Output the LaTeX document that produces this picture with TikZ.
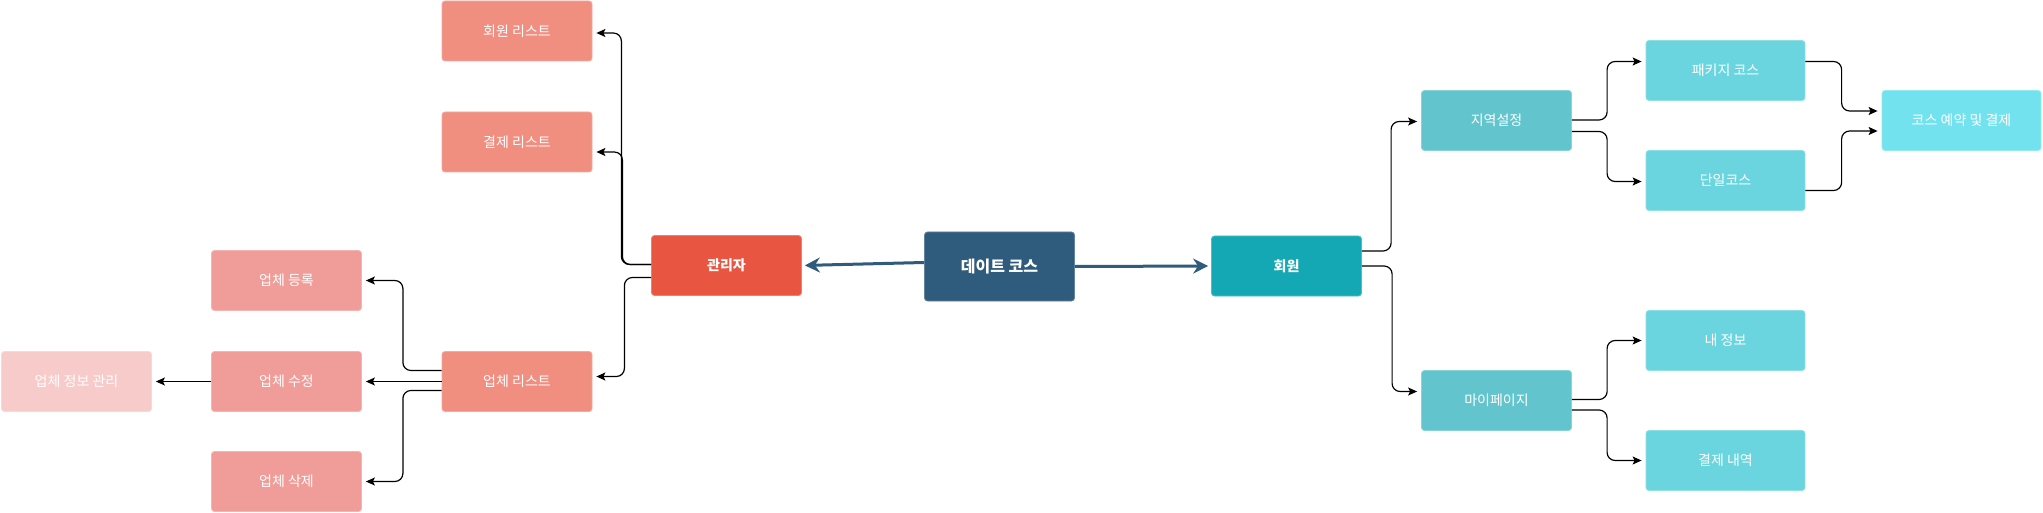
\documentclass[tikz,border=0pt]{standalone}
\usepackage{fontspec}
\newfontfamily\kr{Noto Sans CJK KR}
\usetikzlibrary{arrows.meta,calc}
\definecolor{cSal}{HTML}{F08E80}
\definecolor{cPink}{HTML}{F09C98}
\definecolor{cPale}{HTML}{F7CBCA}
\definecolor{cAdmin}{HTML}{E85642}
\definecolor{cDate}{HTML}{2F5B7C}
\definecolor{cMem}{HTML}{13A8B4}
\definecolor{cTeal}{HTML}{62C5CD}
\definecolor{cCyan}{HTML}{6AD5DE}
\definecolor{cLight}{HTML}{72E3EE}
\tikzset{
  box/.style={rectangle, rounded corners=3pt, minimum width=150pt, minimum height=60pt,
    inner sep=0pt, text=white, line width=0.8pt, font=\kr\fontsize{14}{16}\selectfont},
  widebox/.style={box, minimum width=159pt},
  boldbox/.style={box, font=\kr\bfseries\fontsize{14}{16}\selectfont},
  conn/.style={draw=black, line width=1.2pt, rounded corners=8pt,
    -{Stealth[length=9pt,width=8pt,inset=2pt]}, shorten >=4pt},
  mainarrow/.style={draw=cDate, line width=3pt,
    -{Stealth[length=15pt,width=15pt,inset=5pt]}, shorten >=3pt}
}
\begin{document}
\begin{tikzpicture}[x=1pt,y=-1pt]
\useasboundingbox[fill=white] (0,0) rectangle (2043,513);
% left side
\node[box, fill=cSal, draw=cSal!75!white] (hl) at (517,31) {회원 리스트};
\node[box, fill=cSal, draw=cSal!75!white] (pl) at (517,142) {결제 리스트};
\node[box, fill=cSal, draw=cSal!75!white] (vl) at (517,381.5) {업체 리스트};
\node[box, fill=cPink, draw=cPink!75!white] (vreg) at (286.5,280.5) {업체 등록};
\node[box, fill=cPink, draw=cPink!75!white] (vmod) at (286.5,381.5) {업체 수정};
\node[box, fill=cPink, draw=cPink!75!white] (vdel) at (286.5,481.5) {업체 삭제};
\node[box, fill=cPale, draw=cPale!75!white] (vinfo) at (76.5,381.5) {업체 정보 관리};
\node[boldbox, fill=cAdmin, draw=cAdmin!75!white] (admin) at (726.5,265.5) {관리자};
% center
\node[boldbox, fill=cDate, draw=cDate!75!white, minimum height=69pt,
  font=\kr\bfseries\fontsize{16}{18}\selectfont] (date) at (999.5,266.5) {데이트 코스};
\node[boldbox, fill=cMem, draw=cMem!75!white] (member) at (1286.5,266) {회원};
% right side
\node[box, fill=cTeal, draw=cTeal!75!white] (region) at (1496.5,120.5) {지역설정};
\node[box, fill=cTeal, draw=cTeal!75!white] (mypage) at (1496.5,400.5) {마이페이지};
\node[widebox, fill=cCyan, draw=cCyan!75!white] (pkg) at (1725.5,70.5) {패키지 코스};
\node[widebox, fill=cCyan, draw=cCyan!75!white] (single) at (1725.5,180.5) {단일코스};
\node[widebox, fill=cCyan, draw=cCyan!75!white] (myinfo) at (1725.5,340.5) {내 정보};
\node[widebox, fill=cCyan, draw=cCyan!75!white] (payhist) at (1725.5,460.5) {결제 내역};
\node[widebox, fill=cLight, draw=cLight!75!white] (book) at (1961.5,120.5) {코스 예약 및 결제};
% main arrows
\draw[mainarrow] ($(date.west)+(0,-4)$) -- (admin.east);
\draw[mainarrow] (date.east) -- (member.west);
% admin branch
\draw[conn] ($(admin.west)+(0,-1)$) -| ($(hl.east)+(29,2)$) -- ($(hl.east)+(0,2)$);
\draw[conn] ($(admin.west)+(0,-1)$) -| ($(pl.east)+(30,10)$) -- ($(pl.east)+(0,10)$);
\draw[conn] ($(admin.west)+(0,12)$) -| ($(vl.east)+(32,-5)$) -- ($(vl.east)+(0,-5)$);
\draw[conn] ($(vl.west)+(0,-11)$) -| ($(vreg.east)+(41,0)$) -- (vreg.east);
\draw[conn] (vl.west) -- (vmod.east);
\draw[conn] ($(vl.west)+(0,9)$) -| ($(vdel.east)+(41,0)$) -- (vdel.east);
\draw[conn] (vmod.west) -- (vinfo.east);
% member branch
\draw[conn] ($(member.east)+(0,-15)$) -| ($(region.west)+(-30,1)$) -- ($(region.west)+(0,1)$);
\draw[conn] (member.east) -| ($(mypage.west)+(-29,-9)$) -- ($(mypage.west)+(0,-9)$);
\draw[conn] ($(region.east)+(0,-0.5)$) -| ($(pkg.west)+(-38.5,-9)$) -- ($(pkg.west)+(0,-9)$);
\draw[conn] ($(region.east)+(0,11)$) -| ($(single.west)+(-38.5,1)$) -- ($(single.west)+(0,1)$);
\draw[conn] ($(pkg.east)+(0,-9)$) -| ($(book.west)+(-40,-9.5)$) -- ($(book.west)+(0,-9.5)$);
\draw[conn] ($(single.east)+(0,10)$) -| ($(book.west)+(-40,10.5)$) -- ($(book.west)+(0,10.5)$);
\draw[conn] ($(mypage.east)+(0,-1)$) -| ($(myinfo.west)+(-38.5,0)$) -- (myinfo.west);
\draw[conn] ($(mypage.east)+(0,9.5)$) -| ($(payhist.west)+(-38.5,0)$) -- (payhist.west);
\end{tikzpicture}
\end{document}
